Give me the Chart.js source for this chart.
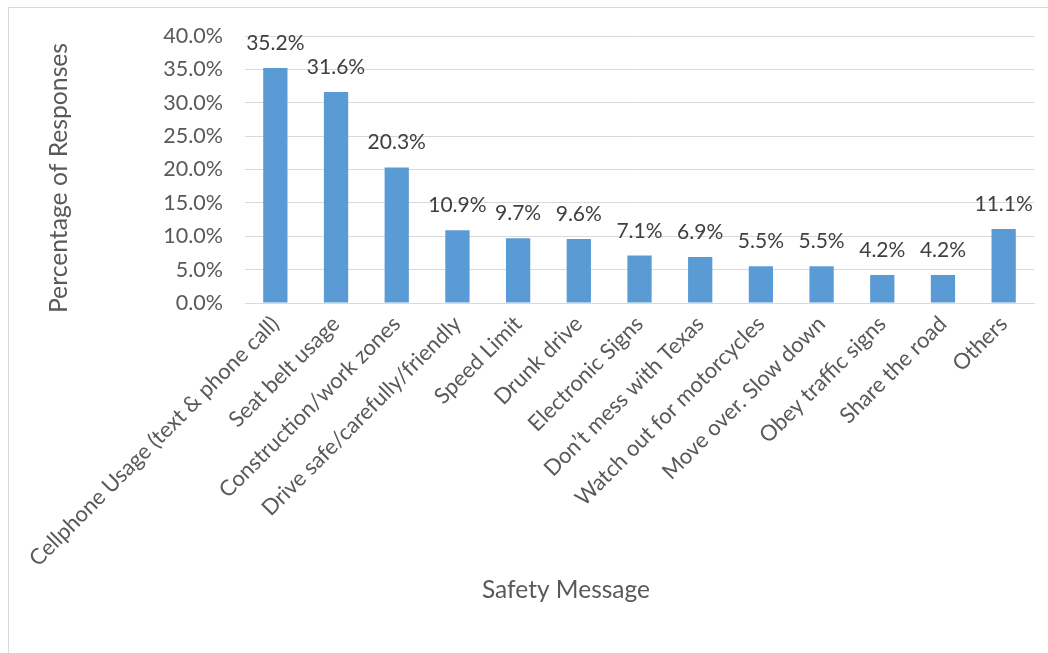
<!DOCTYPE html>
<html>
<head>
<meta charset="utf-8">
<script src="https://cdn.jsdelivr.net/npm/chart.js@4"></script>
<style>
  html, body { margin: 0; padding: 0; background: #fff; }
  #wrap { position: relative; width: 1048px; height: 653px; overflow: hidden; }
  #frame { position: absolute; left: 8px; top: 7px; width: 1100px; height: 700px;
           border-left: 1px solid #D9D9D9; border-top: 1px solid #D9D9D9; box-sizing: border-box; }
  canvas { position: absolute; left: 0; top: 0; }
</style>
</head>
<body>
<div id="wrap">
  <div id="frame"></div>
  <canvas id="c" width="1048" height="653"></canvas>
</div>
<script>
const categories = [
  "Cellphone Usage (text & phone call)",
  "Seat belt usage",
  "Construction/work zones",
  "Drive safe/carefully/friendly",
  "Speed Limit",
  "Drunk drive",
  "Electronic Signs",
  "Don\u2019t mess with Texas",
  "Watch out for motorcycles",
  "Move over. Slow down",
  "Obey traffic signs",
  "Share the road",
  "Others"
];
const percentages = [35.2, 31.6, 20.3, 10.9, 9.7, 9.6, 7.1, 6.9, 5.5, 5.5, 4.2, 4.2, 11.1];
const yTicks = [0, 5, 10, 15, 20, 25, 30, 35, 40];
const xTitle = "Safety Message";
const yTitle = "Percentage of Responses";

const FONT = "Lato, Carlito, 'Open Sans', sans-serif";
const TEXT = "#595959";

const extras = {
  id: 'extras',
  afterDatasetsDraw(chart) {
    const ctx = chart.ctx;
    const meta = chart.getDatasetMeta(0);
    ctx.save();
    ctx.font = "21px " + FONT;
    ctx.fillStyle = "#404040";
    ctx.textAlign = "center";
    ctx.textBaseline = "alphabetic";
    meta.data.forEach((bar, i) => {
      ctx.fillText(percentages[i].toFixed(1) + "%", bar.x, bar.y - 18);
    });
    // axis titles, placed like the original
    ctx.fillStyle = TEXT;
    ctx.textBaseline = "middle";
    ctx.font = "24.5px " + FONT;
    ctx.fillText(xTitle, 566, 590);
    ctx.translate(59, 178);
    ctx.rotate(-Math.PI / 2);
    ctx.font = "24.7px " + FONT;
    ctx.fillText(yTitle, 0, 0);
    ctx.restore();
  }
};

new Chart(document.getElementById('c'), {
  type: 'bar',
  data: {
    labels: categories,
    datasets: [{
      data: percentages,
      backgroundColor: "#5B9BD5",
      borderWidth: 0,
      categoryPercentage: 1.0,
      barPercentage: 0.4
    }]
  },
  options: {
    responsive: false,
    animation: false,
    devicePixelRatio: 1,
    layout: { padding: { left: 46, top: 36, right: 14, bottom: 50 } },
    plugins: { legend: { display: false }, tooltip: { enabled: false } },
    scales: {
      x: {
        grid: { display: false, drawTicks: false },
        border: { display: true, color: "#D9D9D9", width: 1 },
        ticks: {
          color: TEXT,
          font: { family: FONT, size: 22 },
          minRotation: 45, maxRotation: 45,
          autoSkip: false,
          padding: 8
        },
        title: { display: false },
        afterFit(scale) { scale.height = 300; }
      },
      y: {
        min: 0, max: 40,
        afterBuildTicks(scale) { scale.ticks = yTicks.map(v => ({ value: v })); },
        grid: { color: "#D9D9D9", lineWidth: 1, drawTicks: false },
        border: { display: false },
        ticks: {
          color: TEXT,
          font: { family: FONT, size: 21.5 },
          padding: 22,
          callback: v => Number(v).toFixed(1) + "%"
        },
        title: { display: false },
        afterFit(scale) { scale.width = 199; }
      }
    }
  },
  plugins: [extras]
});
</script>
</body>
</html>
